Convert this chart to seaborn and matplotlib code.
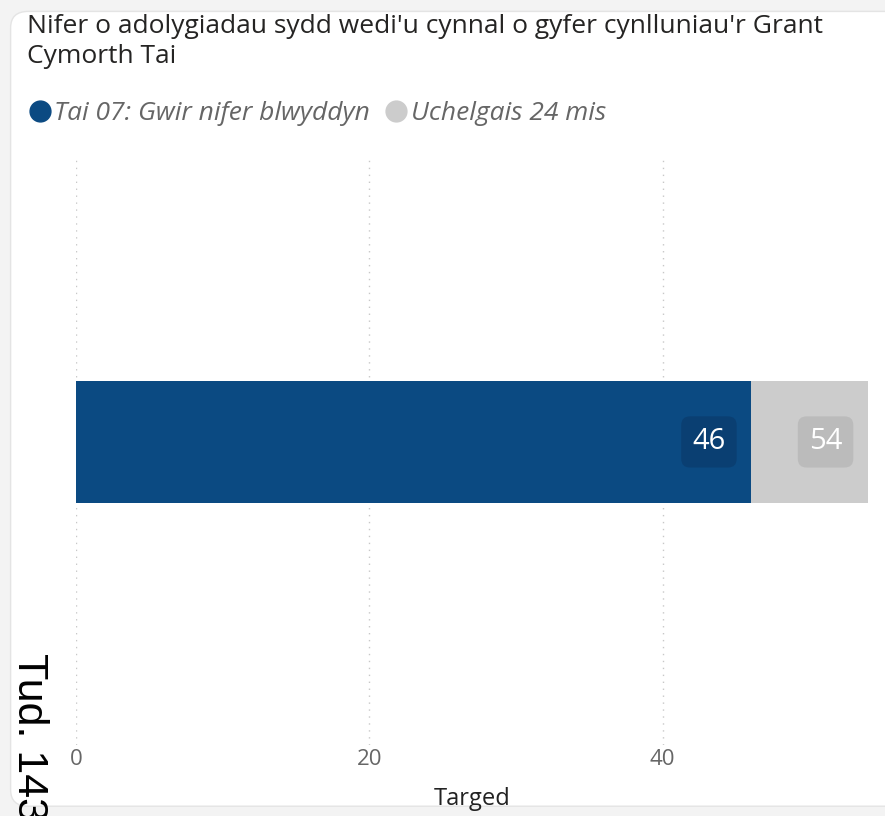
import matplotlib.pyplot as plt
import seaborn as sns
from matplotlib.lines import Line2D
from matplotlib.patches import FancyBboxPatch

categories = ['Grant Cymorth Tai']
actual = [46]
target = [54]
series_names = ['Tai 07: Gwir nifer blwyddyn', 'Uchelgais 24 mis']
ticks = [0, 20, 40]

blue = '#0B4A82'
grey = '#CCCCCC'

sns.set_theme(style='white')
plt.rcParams['font.family'] = ['Open Sans', 'DejaVu Sans']

fig = plt.figure(figsize=(8.85, 8.16), dpi=100, facecolor='#f3f3f3')
card = FancyBboxPatch((0.012, 0.012), 1.1, 0.974, transform=fig.transFigure,
                      boxstyle='round,pad=0,rounding_size=0.02', facecolor='white',
                      edgecolor='#e4e4e4', linewidth=1.0, zorder=-10)
fig.patches.append(card)

ax = fig.add_axes([0.0859, 0.087, 0.895, 0.717])
ax.set_zorder(1)
ax.set_facecolor('none')

sns.barplot(x=target, y=categories, color=grey, width=0.8, saturation=1, linewidth=0, ax=ax, zorder=2)
sns.barplot(x=actual, y=categories, color=blue, width=0.8, saturation=1, linewidth=0, ax=ax, zorder=3)

ax.set_xlim(0, 54)
ax.set_ylim(1.987, -1.849)
ax.set_xticks(ticks)
ax.set_xticklabels([str(t) for t in ticks], fontsize=16, color='#666666')
ax.tick_params(axis='x', length=0, pad=3)
ax.set_yticks([])
ax.set_ylabel('')
ax.set_xlabel('Targed', fontsize=17, color='#222222', labelpad=12)
for s in ax.spines.values():
    s.set_visible(False)
for t in ticks:
    ax.axvline(t, color='#c8c8c8', linestyle=(0, (1, 4)), linewidth=1, zorder=1)

# data labels
ax.text(actual[0] - 2.85, 0, str(actual[0]), ha='center', va='center', fontsize=21, color='white', zorder=5,
        bbox=dict(boxstyle='round,pad=0.38,rounding_size=0.3', facecolor='#0A3F72', edgecolor='none'))
ax.text(target[0] - 2.9, 0, str(target[0]), ha='center', va='center', fontsize=21, color='white', zorder=5,
        bbox=dict(boxstyle='round,pad=0.38,rounding_size=0.3', facecolor='#BBBBBB', edgecolor='none'))

fig.text(0.03, 0.949, "Nifer o adolygiadau sydd wedi'u cynnal o gyfer cynlluniau'r Grant\nCymorth Tai",
         ha='left', va='center', fontsize=19, color='#252423', linespacing=1.3)

handles = [Line2D([], [], marker='o', linestyle='', markersize=15, color=c) for c in (blue, grey)]
fig.legend(handles, series_names, loc='center left', bbox_to_anchor=(0.003, 0.861), ncol=2, frameon=False,
           handletextpad=0.05, columnspacing=0.5, handlelength=1.0,
           prop={'size': 19, 'style': 'italic'}, labelcolor='#666666')

fig.text(0.01, 0.2, 'Tud. 143', rotation=-90, ha='left', va='top', fontsize=31, color='black',
         family=['Liberation Sans', 'DejaVu Sans'])

plt.savefig('out.png', dpi=100, facecolor=fig.get_facecolor())
